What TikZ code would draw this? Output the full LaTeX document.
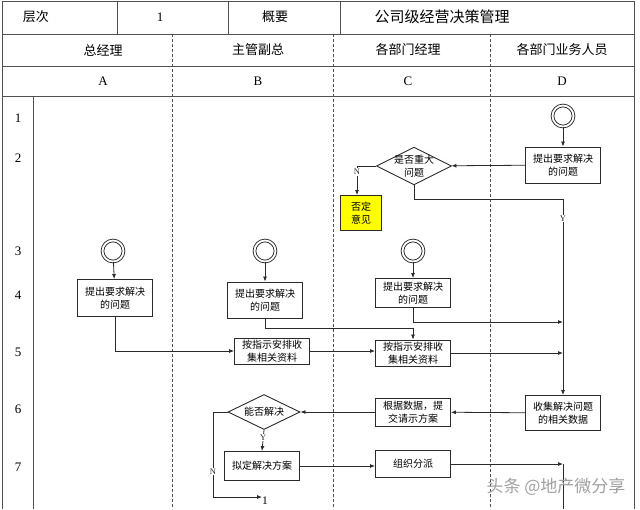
\documentclass[tikz,border=0pt]{standalone}
\usepackage{fontspec}
\setmainfont{Liberation Serif}
\newfontfamily\cjk{Noto Sans CJK SC}
\usetikzlibrary{
  arrows.meta,
  shapes.geometric,
  positioning,
  calc
}
\definecolor{swLine}{HTML}{2B2B2B}
\definecolor{swGrid}{HTML}{505050}
\definecolor{swNote}{HTML}{FFFF00}
\definecolor{swMark}{HTML}{A0A0A0}
\tikzset{
  swnode/.style={
    draw=swLine, line width=0.9pt, align=center, inner sep=2pt,
    font=\cjk\fontsize{10}{12.5}\selectfont
  },
  swbox/.style={swnode, rectangle, minimum width=75pt, minimum height=30pt},
  swdecision/.style={swnode, diamond, minimum width=75pt, minimum height=34pt, inner sep=-6pt},
  swnote/.style={swnode, fill=swNote, minimum width=41pt, minimum height=35pt},
  swstart/.style={
    draw=swLine, circle, double, line width=0.9pt, double distance=1.8pt,
    minimum size=21pt, inner sep=0pt
  },
  flow/.style={-{Latex[length=5pt, width=4pt]}, line width=0.8pt, swLine},
  plainflow/.style={line width=0.8pt, swLine},
  tag/.style={font=\fontsize{8.5}{8.5}\selectfont, fill=white, inner sep=1pt},
  frameline/.style={line width=0.9pt, swGrid},
  laneline/.style={line width=0.9pt, swGrid, dash pattern=on 3pt off 2pt},
  headtext/.style={font=\cjk\fontsize{13}{13}\selectfont},
  idtext/.style={font=\fontsize{13}{13}\selectfont}
}

\begin{document}
\begin{tikzpicture}[x=1pt, y=-1pt]
  \useasboundingbox (0,0) rectangle (640,509);
  % frame and header grid
  \draw[frameline] (2,509) -- (2,1) -- (634,1) -- (634,509);
  \foreach \yy in {34,66,96}{
    \draw[frameline] (2,\yy) -- (634,\yy);
  }
  \foreach \xx in {117,228,340}{
    \draw[frameline] (\xx,1) -- (\xx,34);
  }
  \draw[frameline] (33,96) -- (33,509);
  \foreach \xx in {172,333,490}{
    \draw[laneline] (\xx,34) -- (\xx,509);
  }
  \node[headtext] (hLevel) at (36,17) {层次};
  \node[idtext] (hNum) at (160,17) {1};
  \node[headtext] (hSum) at (275,17) {概要};
  \node[headtext, font=\cjk\fontsize{15}{15}\selectfont] (hTitle) at (442,17) {公司级经营决策管理};
  \foreach \xx/\lane/\id in {103/总经理/A, 258/主管副总/B, 408/各部门经理/C, 562/各部门业务人员/D}{
    \node[headtext] (lane-\id) at (\xx,50) {\lane};
    \node[idtext] (id-\id) at (\xx,81) {\id};
  }
  \foreach \yy/\row in {118/1, 158/2, 251/3, 295/4, 352/5, 409/6, 467/7}{
    \node[idtext] (row-\row) at (18,\yy) {\row};
  }

  % lane D
  \node[swstart] (startD) at (563,116) {};
  \node[swbox, minimum height=36pt] (askD) at (563,165) {提出要求解决\\的问题};
  \node[swdecision] (bigQ) at (414,166) {是否重大\\问题};
  \node[swnote] (reject) at (361,213) {否定\\意见};
  \node[swbox, minimum height=35pt] (collect) at (563,413) {收集解决问题\\的相关数据};
  \coordinate (yBend) at (563,199);
  \coordinate (nBig) at (357,166);
  \draw[flow] (startD) -- (askD);
  \draw[flow] (askD) -- (bigQ);
  \draw[plainflow] (bigQ.west) -- (nBig);
  \draw[flow] (nBig) -- node[tag, pos=0.2]{N} (nBig |- reject.north);
  \draw[flow] (bigQ.south) |- (yBend) -- node[tag, pos=0.1]{Y} (collect.north);

  % lanes A, B, C
  \node[swstart] (startA) at (113,251) {};
  \node[swstart] (startB) at (265,251) {};
  \node[swstart] (startC) at (413,251) {};
  \node[swbox, minimum height=37pt] (askA) at (115,298) {提出要求解决\\的问题};
  \node[swbox, minimum height=36pt] (askB) at (265,300) {提出要求解决\\的问题};
  \node[swbox, minimum height=29pt] (askC) at (413,293) {提出要求解决\\的问题};
  \node[swbox, minimum height=26pt] (gatherB) at (272,351) {按指示安排收\\集相关资料};
  \node[swbox, minimum height=26pt] (gatherC) at (413,353) {按指示安排收\\集相关资料};
  \coordinate (bJoin) at (413,328);
  \coordinate (cJoin) at (563,322);
  \coordinate (gJoin) at (563,353);
  \draw[flow] (startA) -- (askA);
  \draw[flow] (startB) -- (askB);
  \draw[flow] (startC) -- (askC);
  \draw[flow] (askA.south) |- (gatherB.west);
  \draw[flow] (askB.south) |- (bJoin) -- (gatherC.north);
  \draw[flow] (askC.south) |- (cJoin);
  \draw[flow] (gatherB.east) -- (gatherC.west |- gatherB.east);
  \draw[flow] (gatherC.east) -- (gJoin);

  % solution steps
  \node[swbox, minimum height=28pt] (proposal) at (413,412) {根据数据，提\\交请示方案};
  \node[swdecision, minimum width=72pt, minimum height=35pt] (solveQ) at (264,412) {能否解决};
  \node[swbox, minimum height=29pt] (draft) at (262,466) {拟定解决方案};
  \node[swbox, minimum height=27pt] (assign) at (413,464) {组织分派};
  \node[idtext, font=\fontsize{11.5}{11.5}\selectfont, anchor=north west, inner sep=0pt] (toOne) at (262,497) {1};
  \coordinate (nSolve) at (213,412);
  \coordinate (nLow) at (213,497);
  \coordinate (aJoin) at (563,464);
  \coordinate (dEnd) at (563,509);
  \draw[flow] (collect) -- (proposal);
  \draw[flow] (proposal) -- (solveQ);
  \draw[flow] (solveQ.south) -- node[tag, pos=0.35]{Y} (draft.north);
  \draw[flow] (solveQ.west) -- (nSolve) -- node[tag, pos=0.7]{N} (nLow) -- (toOne.north west);
  \draw[flow] (draft.east) -- (assign.west |- draft.east);
  \draw[flow] (assign.east) -- (aJoin);
  \draw[plainflow] (aJoin) -- (dEnd);

  \node[font=\cjk\fontsize{17}{17}\selectfont, text=swMark] (mark) at (556,487) {头条 @地产微分享};
\end{tikzpicture}
\end{document}
